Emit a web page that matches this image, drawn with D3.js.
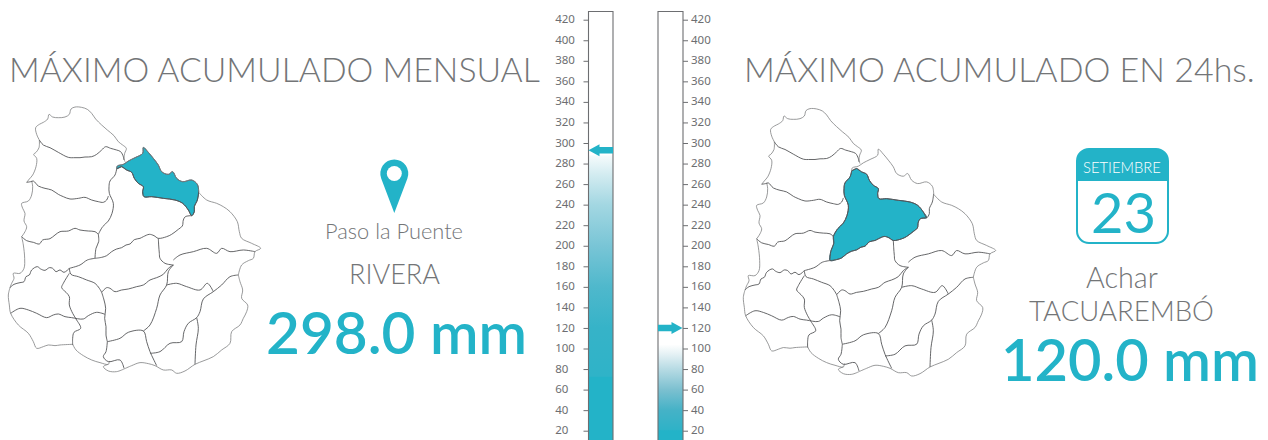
<!DOCTYPE html>
<html><head><meta charset="utf-8">
<script src="https://cdn.jsdelivr.net/npm/d3@7"></script>
<style>html,body{margin:0;padding:0;background:#fff;overflow:hidden}svg{display:block}text{font-family:Lato,"Open Sans",sans-serif}</style>
</head><body><svg id="c" width="1268" height="440"></svg>
<script>
// ---- data ----
const scaleTicks = d3.range(20, 421, 20);
const markerLevels = [293, 120];
const amounts = ["298.0 mm", "120.0 mm"];
const titles = ["MÁXIMO ACUMULADO MENSUAL", "MÁXIMO ACUMULADO EN 24hs."];
const stationLabels = ["Paso la Puente", "Achar"];
const departments = ["RIVERA", "TACUAREMBÓ"];
const calendarMonth = "SETIEMBRE", calendarDay = "23";
// colour ramps as [rain value, colour]
const rampLeft = [[11,"#23b3c8"],[72,"#23b3c8"],[73,"#2fb3c8"],[120,"#36b3c8"],[160,"#4fb8cc"],[200,"#79c5d6"],[240,"#a3d7e2"],[270,"#d4ecf1"],[288,"#f6fbfc"]];
const rampRight = [[11,"#23b3c8"],[20,"#23b3c8"],[21,"#2fb2c7"],[40,"#45b2c7"],[60,"#7cc0d0"],[80,"#b7dbe4"],[95,"#e6f2f5"],[104,"#ffffff"]];
// map traced in map units
const rivera = [[350,222],[352,213],[370,208],[385,198],[405,188],[428,175],[430,157],[445,172],[460,190],[475,210],[485,230],[505,238],[518,230],[530,250],[548,260],[575,255],[592,268],[596,290],[592,315],[583,335],[583,350],[575,362],[565,345],[548,325],[525,315],[490,310],[455,305],[432,305],[428,290],[430,275],[415,265],[403,250],[395,232],[380,225],[365,215]];
const tacuarembo = [[365,215],[380,225],[395,232],[403,250],[415,265],[430,275],[428,290],[432,305],[455,305],[490,310],[525,315],[548,325],[565,345],[575,362],[556,365],[550,375],[547,393],[535,403],[515,418],[500,425],[475,430],[462,422],[448,418],[430,425],[420,430],[403,434],[390,447],[378,450],[365,458],[350,462],[335,470],[320,482],[305,487],[285,490],[288,460],[296,440],[295,418],[308,395],[325,378],[336,355],[340,325],[328,295],[327,275],[330,258],[345,240],[350,222]];
const outerEdges = [
 [[118,135],[110,118],[107,98],[118,88],[130,82],[143,72],[147,58],[158,66],[175,68],[195,66],[208,58],[213,42],[225,36],[245,37],[262,43],[275,55],[287,72],[305,90],[322,105],[342,122],[355,140],[368,150],[379,160],[374,175],[372,190],[375,200]],
 [[118,135],[117,158],[108,172],[101,178],[110,190],[108,215],[98,240],[88,252],[80,262]],
 [[95,258],[98,275],[95,300],[85,318],[65,325],[68,340],[75,355],[72,378],[80,395],[75,410],[65,425]],
 [[65,425],[70,450],[74,490],[72,520],[60,535],[40,535],[42,550],[35,565],[30,578]],
 [[30,578],[25,600],[28,630],[32,655],[55,690],[85,715],[100,740],[110,760],[130,755],[145,750],[165,752],[180,750],[218,748]],
 [[218,748],[228,765],[250,782],[275,795],[300,803],[325,808],[328,798]],
 [[325,808],[310,815],[325,828],[350,830],[372,822]],
 [[372,822],[395,812],[420,803],[445,806],[465,812],[490,825],[515,825],[530,835],[555,828],[585,808],[612,797],[640,785],[665,765],[690,745],[695,710],[720,690],[730,670],[740,650],[743,630],[725,610],[728,585],[720,560],[715,540]],
 [[715,540],[725,510],[745,497],[760,490],[765,470],[782,460],[755,445],[725,430],[718,410],[712,380],[690,350],[670,335],[650,325],[620,315],[596,292]],
 [[350,222],[352,213],[370,208],[385,198],[405,188],[428,175],[430,157],[445,172],[460,190],[475,210],[485,230],[505,238],[518,230],[530,250],[548,260],[575,255],[592,268],[596,290]]
];
const innerEdges = [
 [[118,135],[130,150],[150,158],[175,172],[205,187],[225,188],[240,188],[255,186],[275,185],[290,178],[305,165],[317,155],[332,160],[350,165],[362,170],[370,185],[372,195]],
 [[80,262],[92,260],[100,258],[115,273],[135,280],[155,285],[175,298],[190,305],[210,312],[235,310],[255,307],[275,315],[295,320],[310,322],[320,315],[325,303]],
 [[350,222],[345,240],[330,258],[327,275],[328,295],[340,325],[336,355],[325,378],[308,395],[295,418]],
 [[596,290],[592,315],[583,335],[583,350],[575,362],[565,345],[548,325],[525,315],[490,310],[455,305],[432,305],[428,290],[430,275],[415,265],[403,250],[395,232],[380,225],[365,215],[350,222]],
 [[65,425],[80,437],[100,442],[118,447],[128,435],[150,431],[165,420],[180,410],[205,408],[225,400],[240,405],[265,408],[285,410],[295,418]],
 [[295,418],[296,440],[288,460],[285,490]],
 [[30,578],[42,568],[60,563],[72,560],[78,545],[88,540],[95,525],[112,515],[122,522],[135,526],[148,518],[158,520],[168,530],[180,525],[192,532],[208,520]],
 [[208,520],[240,510],[262,495],[285,490]],
 [[285,490],[305,487],[320,482],[335,470],[350,462],[365,458],[378,450],[390,447],[403,434],[420,430],[430,425],[448,418],[462,422],[475,430],[500,425],[515,418],[535,403],[547,393],[550,375],[556,365],[575,362]],
 [[475,430],[476,450],[478,475],[480,490],[495,505],[520,510]],
 [[520,510],[505,520],[490,538],[470,548],[450,555],[430,570],[410,575],[385,582],[365,585],[345,590],[330,580],[320,578],[305,592]],
 [[208,520],[213,538],[235,545],[260,555],[285,565],[298,580],[305,592]],
 [[305,592],[312,615],[317,640],[314,670],[318,695],[318,720],[322,740]],
 [[208,535],[190,565],[185,578],[198,592],[208,605],[208,630],[218,655],[228,672],[242,700],[222,712],[218,730],[218,750]],
 [[32,655],[60,640],[85,645],[110,655],[140,668],[160,660],[175,657],[195,665],[215,668],[250,672],[265,662],[290,652],[315,658]],
 [[322,740],[360,730],[385,712],[430,708],[440,740],[450,770],[470,812]],
 [[322,740],[318,770],[310,785],[325,800],[360,795],[372,820]],
 [[715,540],[690,545],[665,570],[640,590],[610,612],[600,650],[590,668],[565,685],[552,710],[545,740],[510,745],[480,770],[450,775]],
 [[590,668],[595,700],[588,750],[585,808]],
 [[520,510],[505,530],[500,570],[480,600],[470,640],[450,690],[430,708]],
 [[500,570],[530,565],[560,575],[600,585],[622,565],[640,590]],
 [[520,495],[540,480],[580,470],[620,460],[650,475],[665,460],[690,470],[730,465],[765,470]]
];

// ---- drawing ----
const TEAL = "#23b3c8", GREY = "#737577";
const svg = d3.select("#c");
const defs = svg.append("defs");

// places text so that it spans x0..x1 by fitting the font size
const label = (x0, x1, y, txt, size, weight, fill) => {
  const t = svg.append("text").attr("x", x0).attr("y", y)
    .attr("font-size", size).attr("font-weight", weight).attr("fill", fill).text(txt);
  const w = t.node().getComputedTextLength();
  t.attr("font-size", size * (x1 - x0) / w);
  return t;
};
label(9, 540, 82, titles[0], 36, 300, GREY);
label(744, 1255, 82, titles[1], 36, 300, GREY);

// maps
const maps = [
 {x: d3.scaleLinear().domain([0,810]).range([0,270]), y: d3.scaleLinear().domain([38,832]).range([107.7,372.3]), hi: rivera},
 {x: d3.scaleLinear().domain([0,810]).range([735,1005]), y: d3.scaleLinear().domain([38,832]).range([109.3,375]), hi: tacuarembo}
];
maps.forEach(m => {
  const line = d3.line().x(d => m.x(d[0])).y(d => m.y(d[1])).curve(d3.curveCatmullRom.alpha(0.5));
  svg.append("path").attr("d", line(m.hi) + "Z").attr("fill", TEAL).attr("stroke","#3f5560").attr("stroke-width",0.9);
  svg.append("g").selectAll("path").data(outerEdges).join("path")
    .attr("d", line).attr("fill", "none").attr("stroke", "#7f8082").attr("stroke-width", 0.8);
  svg.append("g").selectAll("path").data(innerEdges).join("path")
    .attr("d", line).attr("fill", "none").attr("stroke", "#555658").attr("stroke-width", 0.9);
});

// thermometers
const y = d3.scaleLinear().domain([20, 420]).range([430.7, 19.7]);
const bars = [{x0:588.5, x1:613, ramp:rampLeft, side:"left", level:markerLevels[0]},
              {x0:658, x1:683, ramp:rampRight, side:"right", level:markerLevels[1]}];
const topVal = y.invert(11.5), botVal = y.invert(441);
bars.forEach((b, i) => {
  const id = "g" + i, maxV = b.ramp[b.ramp.length-1][0];
  const g = defs.append("linearGradient").attr("id", id).attr("gradientUnits","userSpaceOnUse")
    .attr("x1",0).attr("x2",0).attr("y1",y(botVal)).attr("y2",y(maxV));
  b.ramp.forEach(r => g.append("stop").attr("offset",(Math.max(r[0],botVal)-botVal)/(maxV-botVal)).attr("stop-color",r[1]));
  svg.append("rect").attr("x",b.x0).attr("width",b.x1-b.x0).attr("y",y(maxV)).attr("height",y(botVal)-y(maxV)).attr("fill",`url(#${id})`);
  svg.append("path").attr("d",`M${b.x0},${y(botVal)}V${y(topVal)}H${b.x1}V${y(botVal)}`)
    .attr("fill","none").attr("stroke","#6d6e71").attr("stroke-width",1.1);
  // axis
  const axisG = svg.append("g");
  if (b.side === "left") {
    axisG.attr("transform",`translate(${b.x0},0)`).call(d3.axisLeft(y).tickValues(scaleTicks).tickSize(5).tickFormat(d3.format("d")));
  } else {
    axisG.attr("transform",`translate(${b.x1},0)`).call(d3.axisRight(y).tickValues(scaleTicks).tickSize(5).tickFormat(d3.format("d")));
  }
  axisG.select(".domain").remove();
  axisG.selectAll("line").attr("stroke","#6d6e71");
  axisG.selectAll("text").attr("text-anchor","start").attr("x", b.side==="left" ? 555.2-b.x0 : 691-b.x1)
    .attr("dy","0.32em").attr("y",-0.6).attr("fill","#6d6e71").attr("font-size",11.5).style("font-family","'Noto Sans',sans-serif");
  // arrow
  const ay = y(b.level);
  const dir = b.side === "left" ? -1 : 1;
  const start = b.side === "left" ? b.x1 : b.x0;
  const tip = start + dir * 24.5;
  const neck = tip - dir * 11;
  svg.append("path").attr("fill",TEAL)
    .attr("d",`M${start},${ay-3.2}H${neck}V${ay-6}L${tip},${ay}L${neck},${ay+6}V${ay+3.2}H${start}Z`);
});

// pin
const pin = d3.path();
const cx = 394.3, cy = 173.5, R = 14, tipY = 213;
const tang = Math.acos(R/(tipY-cy));
pin.arc(cx,cy,R,Math.PI/2+tang,Math.PI/2-tang);
pin.lineTo(cx,tipY); pin.closePath();
svg.append("path").attr("d",pin.toString()).attr("fill",TEAL);
svg.append("circle").attr("cx",cx).attr("cy",cy).attr("r",7.5).attr("fill","#fff");

// left texts
label(325, 463, 239, stationLabels[0], 20, 300, GREY);
label(349, 440, 284, departments[0], 25, 300, GREY);
label(266, 527, 354, amounts[0], 56, 600, TEAL);

// calendar
const cal = {x:1077, y:149, w:91, h:94, r:12, hdr:32};
svg.append("path").attr("fill",TEAL)
 .attr("d",`M${cal.x},${cal.y+cal.hdr}V${cal.y+cal.r}a${cal.r},${cal.r} 0 0 1 ${cal.r},${-cal.r}H${cal.x+cal.w-cal.r}a${cal.r},${cal.r} 0 0 1 ${cal.r},${cal.r}V${cal.y+cal.hdr}Z`);
svg.append("rect").attr("x",cal.x).attr("y",cal.y).attr("width",cal.w).attr("height",cal.h).attr("rx",cal.r)
 .attr("fill","none").attr("stroke",TEAL).attr("stroke-width",2);
label(1083, 1161, 173, calendarMonth, 15, 300, "#fff");
label(1091, 1156, 233, calendarDay, 60, 400, TEAL);

// right texts
label(1086, 1158, 288, stationLabels[1], 25, 300, GREY);
label(1029, 1214, 321, departments[1], 25, 300, GREY);
label(1001, 1259, 381, amounts[1], 56, 600, TEAL);
</script></body></html>
